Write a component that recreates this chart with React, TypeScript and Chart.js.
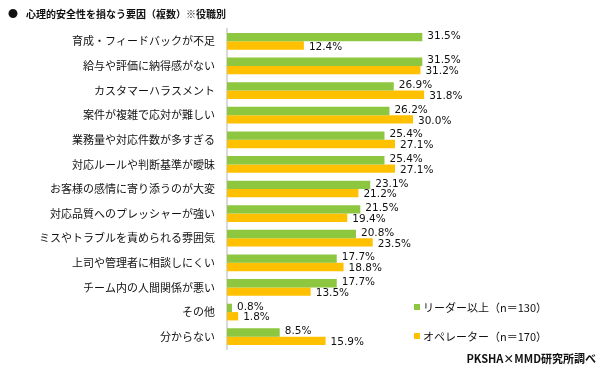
import React, { useEffect, useRef } from "react";
import { Chart, registerables } from "chart.js";

Chart.register(...registerables);

const categories = [
  "育成・フィードバックが不足",
  "給与や評価に納得感がない",
  "カスタマーハラスメント",
  "案件が複雑で応対が難しい",
  "業務量や対応件数が多すぎる",
  "対応ルールや判断基準が曖昧",
  "お客様の感情に寄り添うのが大変",
  "対応品質へのプレッシャーが強い",
  "ミスやトラブルを責められる雰囲気",
  "上司や管理者に相談しにくい",
  "チーム内の人間関係が悪い",
  "その他",
  "分からない",
];
const leaderValues = [31.5, 31.5, 26.9, 26.2, 25.4, 25.4, 23.1, 21.5, 20.8, 17.7, 17.7, 0.8, 8.5];
const operatorValues = [12.4, 31.2, 31.8, 30.0, 27.1, 27.1, 21.2, 19.4, 23.5, 18.8, 13.5, 1.8, 15.9];
const seriesNames = ["リーダー以上（n＝130）", "オペレーター（n＝170）"];
const titleText = "心理的安全性を損なう要因（複数）※役職別";
const sourceText = "PKSHA×MMD研究所調べ";

const GREEN = "#8DC63F";
const ORANGE = "#FFC000";
const FONT = "'Noto Sans CJK JP', 'Noto Sans', sans-serif";

const labelPlugin = {
  id: "valueLabels",
  afterDatasetsDraw(chart: any) {
    const ctx = chart.ctx;
    ctx.save();
    ctx.font = `10.5px 'DejaVu Sans', 'Noto Sans', sans-serif`;
    ctx.fillStyle = "#111";
    ctx.textAlign = "left";
    ctx.textBaseline = "middle";
    chart.data.datasets.forEach((ds: any, di: number) => {
      const meta = chart.getDatasetMeta(di);
      meta.data.forEach((bar: any, i: number) => {
        const v = ds.data[i];
        const dy = di === 0 ? -1 : 1.5;
        ctx.fillText(v.toFixed(1) + "%", bar.x + 5, bar.y + dy);
      });
    });
    ctx.restore();
  },
};

export default function App() {
  const ref = useRef<HTMLCanvasElement | null>(null);
  useEffect(() => {
    document.body.style.margin = "0";
    const chart = new Chart(ref.current as HTMLCanvasElement, {
      type: "bar",
      data: {
        labels: categories,
        datasets: [
          { label: seriesNames[0], data: leaderValues, backgroundColor: GREEN, barPercentage: 1.0, categoryPercentage: 0.68 },
          { label: seriesNames[1], data: operatorValues, backgroundColor: ORANGE, barPercentage: 1.0, categoryPercentage: 0.68 },
        ],
      },
      options: {
        indexAxis: "y",
        animation: false,
        responsive: false,
        maintainAspectRatio: false,
        layout: { padding: { top: 29, bottom: 21, left: 0, right: 125 } },
        plugins: { legend: { display: false }, tooltip: { enabled: false }, title: { display: false } },
        scales: {
          x: { display: false, min: 0, max: 40 },
          y: {
            afterFit: (s: any) => {
              s.width = 227;
            },
            grid: { display: true, color: "transparent", drawTicks: false },
            border: { display: true, color: "#d9d9d9", width: 2 },
            ticks: { color: "#111", padding: 12, font: { size: 11, family: FONT } },
          },
        },
      },
      plugins: [labelPlugin],
    });
    return () => chart.destroy();
  }, []);

  const legendItem = (color: string, text: string, top: number) => (
    <div style={{ position: "absolute", left: 414, top, display: "flex", alignItems: "center", fontFamily: FONT, fontSize: 11, color: "#111" }}>
      <span style={{ display: "inline-block", width: 6, height: 6, background: color, marginRight: 3 }} />
      <span>{text}</span>
    </div>
  );

  return (
    <div style={{ position: "relative", width: 600, height: 370, background: "#fff", overflow: "hidden" }}>
      <canvas ref={ref} width={600} height={370} style={{ position: "absolute", left: 0, top: 0 }} />
      <div style={{ position: "absolute", left: 8, top: 6, fontFamily: FONT, fontSize: 10, fontWeight: 700, color: "#111", whiteSpace: "nowrap" }}>
        <span style={{ marginRight: 8 }}>●</span>
        {titleText}
      </div>
      {legendItem(GREEN, seriesNames[0], 299)}
      {legendItem(ORANGE, seriesNames[1], 328)}
      <div style={{ position: "absolute", right: 4, top: 350, fontFamily: FONT, fontSize: 11, fontWeight: 700, color: "#111", whiteSpace: "nowrap" }}>
        {sourceText}
      </div>
    </div>
  );
}
